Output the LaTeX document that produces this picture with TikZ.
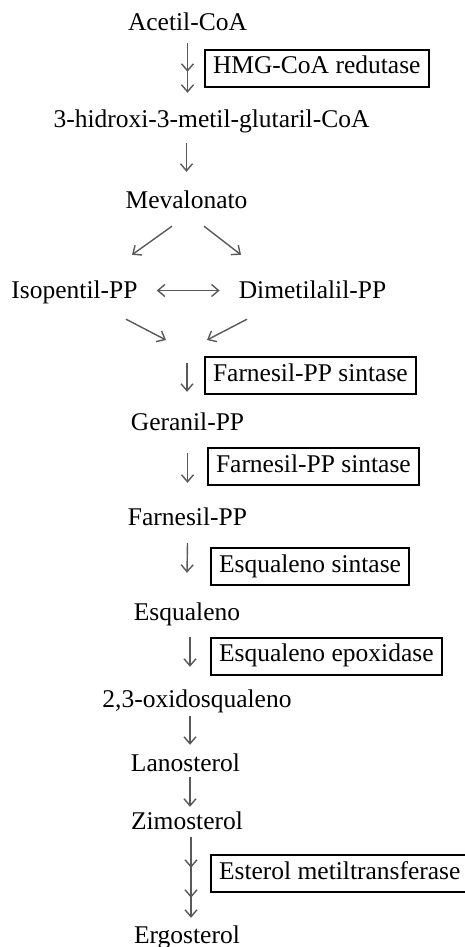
\documentclass[tikz,border=0pt]{standalone}
\usepackage{fontspec}
\setmainfont{Liberation Serif}
\usepackage{xcolor}
\usetikzlibrary{arrows.meta,calc,decorations.markings}

\colorlet{arrowgray}{black!65}

\begin{document}
\begin{tikzpicture}[
                    x=1pt, y=-1pt,
                    every node/.style={font=\fontsize{25.5}{30}\selectfont},
                    met/.style={inner sep=0pt, text height=17pt, text depth=6pt, anchor=base},
                    enzyme/.style={draw, line width=2pt, anchor=west, inner xsep=8pt, inner ysep=7pt, text height=17pt, text depth=6pt},
                    rxn/.style={draw=arrowgray, line width=1.4pt, -{Straight Barb[length=7pt,width=12pt]}},
                    both/.style={draw=arrowgray, line width=1.4pt, {Straight Barb[length=7pt,width=12pt]}-{Straight Barb[length=7pt,width=12pt]}},
                    midtip/.style={postaction={decorate, decoration={markings, mark=at position #1 with {\arrow[arrowgray]{Straight Barb[length=7pt,width=12pt]}}}}}
                ]
                    \useasboundingbox (0,0) rectangle (464,947);

                    % Metabolites
                    \node[met] (Acetil) at (187.5,31) {Acetil-CoA};
                    \node[met] (HMGCoA) at (211.5,128) {3-hidroxi-3-metil-glutaril-CoA};
                    \node[met] (Mev) at (186.5,208) {Mevalonato};
                    \node[met] (IPP) at (74.5,298) {Isopentil-PP};
                    \node[met] (DMAPP) at (312.5,298) {Dimetilalil-PP};
                    \coordinate (Merge) at (187,350);
                    \node[met] (GPP) at (187.5,430) {Geranil-PP};
                    \node[met] (FPP) at (187.5,525) {Farnesil-PP};
                    \node[met] (Esq) at (187,620) {Esqualeno};
                    \node[met] (Oxi) at (197,707) {2,3-oxidosqualeno};
                    \node[met] (Lan) at (185.5,771) {Lanosterol};
                    \node[met] (Zim) at (187,829) {Zimosterol};
                    \node[met] (Erg) at (187,943) {Ergosterol};

                    % Enzymes
                    \node[enzyme] (HMGR) at (204,68.5) {HMG-CoA redutase};
                    \node[enzyme] (FPPSa) at (204,375.5) {Farnesil-PP sintase};
                    \node[enzyme] (FPPSb) at (207,466.5) {Farnesil-PP sintase};
                    \node[enzyme] (SQS) at (210,566.5) {Esqualeno sintase};
                    \node[enzyme] (SQE) at (210,656) {Esqualeno epoxidase};
                    \node[enzyme] (ERG6) at (210,873.5) {Esterol metiltransferase};

                    % Reactions
                    \draw[rxn, midtip=-21pt] ($(Acetil.south)+(0,6)$) -- ($(Acetil.south |- HMGCoA.north)+(0,-18)$);
                    \draw[rxn] ($(Mev.north |- HMGCoA.south)+(0,9)$) -- ($(Mev.north)+(0,-19)$);
                    \draw[rxn] ($(Mev.south)+(-14.5,12)$) -- ($(IPP.north)+(57.5,-26)$);
                    \draw[rxn] ($(Mev.south)+(17.5,12)$) -- ($(DMAPP.north)+(-71.5,-26)$);
                    \draw[both] ($(IPP.east)+(19,-2)$) -- ($(DMAPP.west)+(-19,-2)$);
                    \draw[rxn] ($(IPP.south)+(51.5,15)$) -- ($(Merge)+(-21,-10)$);
                    \draw[rxn] ($(DMAPP.south)+(-65.5,15)$) -- ($(Merge)+(20,-10)$);
                    \draw[rxn] ($(Merge)+(0,13)$) -- ($(Merge |- GPP.north)+(0,-21)$);
                    \draw[rxn] ($(GPP.south)+(0,17)$) -- ($(FPP.north)+(0,-25)$);
                    \draw[rxn] ($(FPP.south)+(0,12)$) -- ($(Esq.north)+(0,-30)$);
                    \draw[rxn] ($(Esq.south)+(3,11)$) -- ($(Esq.south |- Oxi.north)+(3,-23)$);
                    \draw[rxn] ($(Lan.north |- Oxi.south)+(4.5,3)$) -- ($(Lan.north)+(4.5,-9)$);
                    \draw[rxn] ($(Lan.south)+(4.5,0)$) -- ($(Lan.south |- Zim.north)+(4.5,-5)$);
                    \draw[rxn, midtip=-50pt, midtip=-20pt] ($(Zim.south)+(4,2)$) -- ($(Erg.north)+(4,-8)$);
                \end{tikzpicture}
\end{document}
